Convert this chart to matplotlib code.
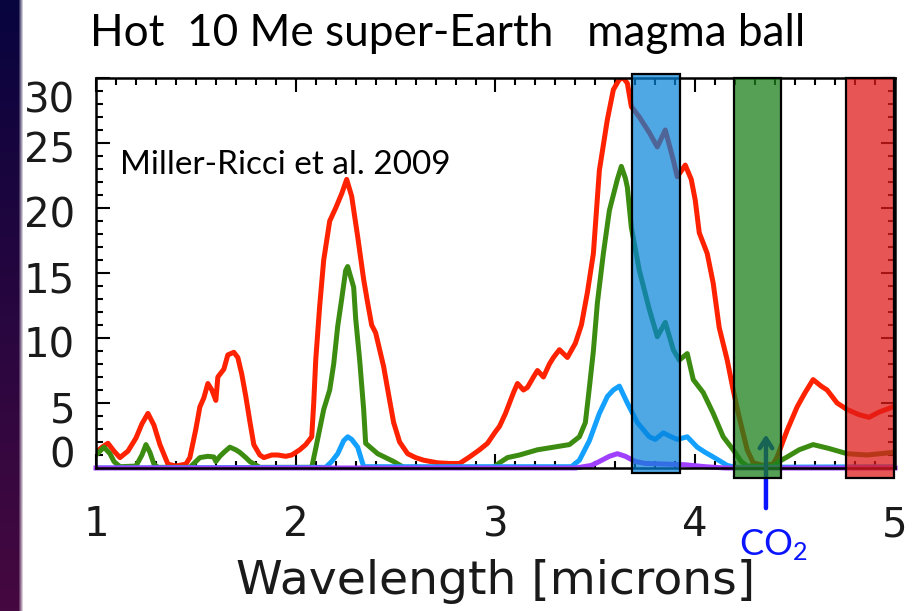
import numpy as np
import matplotlib
matplotlib.use("Agg")
import matplotlib.pyplot as plt
from matplotlib.patches import Rectangle
from matplotlib.transforms import ScaledTranslation

plt.rcParams['mathtext.default'] = 'regular'

# spectra (wavelength in microns)
red_x = [1.00, 1.03, 1.06, 1.09, 1.12, 1.16, 1.20, 1.23, 1.26, 1.29, 1.32, 1.36, 1.40, 1.45,
         1.47, 1.50, 1.52, 1.54, 1.56, 1.58, 1.60, 1.61, 1.64, 1.66, 1.69, 1.71, 1.73, 1.75,
         1.77, 1.79, 1.82, 1.84, 1.88, 1.91, 1.95, 1.98, 2.02, 2.05, 2.08, 2.09, 2.10, 2.12,
         2.14, 2.17, 2.20, 2.23, 2.255, 2.28, 2.31, 2.34, 2.36, 2.38, 2.40, 2.44, 2.47, 2.49,
         2.52, 2.56, 2.60, 2.64, 2.71, 2.77, 2.82, 2.87, 2.92, 2.96, 3.00, 3.02, 3.05, 3.07,
         3.09, 3.11, 3.14, 3.16, 3.19, 3.21, 3.24, 3.27, 3.29, 3.32, 3.36, 3.40, 3.43, 3.46,
         3.49, 3.52, 3.56, 3.59, 3.62, 3.64, 3.66, 3.68, 3.72, 3.77, 3.81, 3.85, 3.89, 3.91,
         3.95, 3.98, 4.00, 4.02, 4.06, 4.09, 4.12, 4.16, 4.19, 4.22, 4.26, 4.29, 4.34, 4.39,
         4.41, 4.46, 4.51, 4.55, 4.59, 4.63, 4.66, 4.71, 4.76, 4.82, 4.87, 4.92, 4.99]
red_y = [1.2, 1.6, 1.9, 1.3, 0.8, 1.3, 2.3, 3.4, 4.2, 3.3, 1.8, 0.3, 0.15, 0.3,
         0.8, 3.0, 4.7, 5.4, 6.5, 6.0, 5.2, 7.0, 7.6, 8.7, 8.9, 8.5, 7.2, 5.5,
         3.6, 1.8, 1.0, 0.8, 1.0, 1.0, 0.9, 1.0, 1.4, 1.8, 2.4, 5.0, 8.3, 12.5,
         16.0, 19.0, 20.0, 21.1, 22.2, 20.9, 17.8, 14.5, 12.7, 11.0, 10.4, 7.8, 5.2, 3.5,
         2.0, 1.1, 0.8, 0.6, 0.4, 0.35, 0.35, 0.85, 1.4, 1.9, 2.8, 3.2, 4.2, 5.0,
         5.8, 6.5, 6.0, 6.2, 7.0, 7.5, 7.0, 8.0, 8.5, 9.1, 8.5, 9.6, 11.0, 13.5,
         16.5, 22.9, 26.8, 29.1, 29.9, 30.0, 29.6, 27.8, 27.0, 25.8, 24.7, 26.0, 23.7, 22.4,
         23.3, 22.2, 20.6, 18.1, 16.5, 14.2, 10.8, 8.3, 6.0, 3.9, 1.4, 0.4, 0.2, 0.3,
         0.85, 2.9, 4.7, 5.8, 6.8, 6.3, 6.0, 5.0, 4.5, 4.1, 3.9, 4.3, 4.7]

green_x = [1.00, 1.04, 1.07, 1.09, 1.12, 1.20, 1.23, 1.25, 1.27, 1.29, 1.31, 1.47, 1.50, 1.52,
           1.56, 1.59, 1.60, 1.62, 1.64, 1.67, 1.70, 1.72, 1.75, 1.77, 1.82, 2.08, 2.10, 2.12,
           2.14, 2.17, 2.19, 2.21, 2.23, 2.25, 2.26, 2.29, 2.30, 2.32, 2.34, 2.35, 2.38, 2.41,
           2.45, 2.49, 2.54, 2.99, 3.02, 3.06, 3.12, 3.21, 3.29, 3.37, 3.42, 3.45, 3.47, 3.49,
           3.51, 3.54, 3.57, 3.61, 3.63, 3.65, 3.66, 3.68, 3.72, 3.77, 3.81, 3.85, 3.89, 3.92,
           3.96, 3.99, 4.04, 4.09, 4.14, 4.19, 4.23, 4.26, 4.39, 4.42, 4.46, 4.52, 4.59, 4.67,
           4.76, 4.86, 4.99]
green_y = [1.0, 1.6, 1.1, 0.5, 0.1, 0.15, 1.0, 1.8, 1.2, 0.3, 0.05, 0.05, 0.5, 0.8,
           0.9, 0.85, 0.5, 0.9, 1.2, 1.6, 1.4, 1.2, 0.8, 0.5, 0.05, 0.05, 1.5, 3.0,
           4.5, 6.0, 8.0, 10.9, 13.0, 15.2, 15.5, 13.9, 11.5, 8.3, 4.5, 1.9, 1.5, 1.1,
           0.8, 0.5, 0.05, 0.05, 0.4, 0.8, 1.0, 1.4, 1.6, 1.8, 2.4, 3.5, 6.2, 9.0,
           12.7, 16.5, 19.8, 22.2, 23.2, 22.3, 21.6, 18.5, 15.2, 12.2, 10.1, 11.2, 9.1, 8.3,
           8.8, 6.8, 5.8, 4.2, 2.4, 1.4, 0.5, 0.15, 0.15, 0.5, 0.85, 1.4, 1.8, 1.5,
           1.1, 1.0, 1.2]

blue_x = [1.00, 2.15, 2.18, 2.21, 2.24, 2.26, 2.28, 2.31, 2.34, 3.38, 3.42, 3.47, 3.52, 3.56,
          3.59, 3.62, 3.66, 3.71, 3.77, 3.80, 3.84, 3.88, 3.91, 3.96, 4.01, 4.05, 4.09, 4.16,
          4.20, 5.00]
blue_y = [0.0, 0.05, 0.5, 1.1, 2.1, 2.4, 2.2, 1.6, 0.1, 0.1, 0.6, 2.1, 4.2, 5.5,
          6.0, 6.3, 5.0, 3.5, 2.4, 2.2, 2.7, 2.4, 2.2, 2.4, 1.6, 1.2, 0.85, 0.2,
          0.05, 0.1]

purple_x = [1.00, 3.40, 3.48, 3.52, 3.57, 3.61, 3.65, 3.70, 3.75, 3.85, 3.95, 4.05, 4.15, 5.00]
purple_y = [0.0, 0.0, 0.2, 0.5, 0.9, 1.1, 0.9, 0.5, 0.35, 0.3, 0.25, 0.1, 0.0, 0.0]

# highlighted bands: (x0, x1, y0, y1, colour, alpha)
bands = [(3.685, 3.925, -0.38, 30.3, (0.02, 0.51, 0.85), 0.70),
         (4.195, 4.43, -0.77, 30.0, (0.11, 0.50, 0.11), 0.75),
         (4.755, 4.995, -0.77, 30.0, (0.88, 0.11, 0.11), 0.75)]

fig = plt.figure(figsize=(9.18, 6.11), dpi=100)

# dark slide edge on the left
strip = fig.add_axes([0, 0, 24 / 918, 1])
top = np.array([8, 4, 62]) / 255
bot = np.array([70, 8, 64]) / 255
t = np.linspace(0, 1, 200)[:, None, None]
grad = top * (1 - t) + bot * t
grad = np.repeat(grad, 24, axis=1)
w = np.clip((np.arange(24) - 18) / 5, 0, 1)[None, :, None]
grad = grad * (1 - w) + w
strip.imshow(grad, aspect='auto', extent=[0, 1, 0, 1])
strip.axis('off')

ax = fig.add_axes([96 / 918, 1 - 468 / 611, 799 / 918, 390 / 611])

lw = 3.6
ax.plot(red_x, red_y, color='#ff2200', lw=lw, zorder=2)
ax.plot(green_x, green_y, color='#3c8c12', lw=lw, zorder=2)
ax.plot(blue_x, blue_y, color='#14a0ff', lw=lw, zorder=2)
ax.plot(purple_x, purple_y, color='#a040ff', lw=lw, zorder=2, clip_on=False)

# CO2 arrow (sits under the green band)
ax.annotate('', xy=(4.354, 2.8), xytext=(4.354, -3.3),
            arrowprops=dict(arrowstyle='->, head_length=0.7, head_width=0.45',
                            color='#0a14ff', lw=3.2),
            annotation_clip=False, zorder=3)
ax.text(4.39, -5.9, 'CO$_2$', color='#0a14ff', fontsize=26, family='Lato',
        ha='center', va='center', clip_on=False)

for x0, x1, y0, y1, c, a in bands:
    ax.add_patch(Rectangle((x0, y0), x1 - x0, y1 - y0, facecolor=c, alpha=a,
                           edgecolor='none', clip_on=False, zorder=4))
    ax.add_patch(Rectangle((x0, y0), x1 - x0, y1 - y0, facecolor='none',
                           edgecolor='black', lw=1.6, clip_on=False, zorder=5))

ax.text(1.12, 23.3, 'Miller-Ricci et al. 2009', fontsize=24, family='Lato',
        ha='left', va='center')

ax.set_xlim(1, 5)
ax.set_ylim(0, 30)
ax.set_xticks([1, 2, 3, 4, 5])
ax.set_xticks(np.arange(1, 5.0001, 0.1), minor=True)
ax.set_yticks([0, 5, 10, 15, 20, 25, 30])
ax.set_yticks(np.arange(0, 31, 1), minor=True)
ax.tick_params(which='both', direction='in', top=True, right=True, width=1.5)
ax.tick_params(which='major', length=10)
ax.tick_params(which='minor', length=5)
ax.tick_params(axis='y', which='major', labelsize=29, pad=15, labelcolor='#1a1a1a')
ax.tick_params(axis='x', which='major', labelsize=29, pad=27, labelcolor='#1a1a1a')
for s in ax.spines.values():
    s.set_linewidth(1.8)

ax.set_xlabel('Wavelength [microns]', fontsize=34, labelpad=10, color='#1a1a1a')

# shift the end labels of the y axis like in the original
offs = {0: 16, 30: -19}
for v, lbl in zip(ax.get_yticks(), ax.get_yticklabels()):
    dy = offs.get(int(round(v)), -4) / 100
    lbl.set_transform(lbl.get_transform() + ScaledTranslation(0, dy, fig.dpi_scale_trans))

fig.text(90 / 918, 1 - 33 / 611, 'Hot  10 Me super-Earth   magma ball', fontsize=31.8,
         family='Lato', ha='left', va='center')

fig.savefig('out.png', dpi=100)
